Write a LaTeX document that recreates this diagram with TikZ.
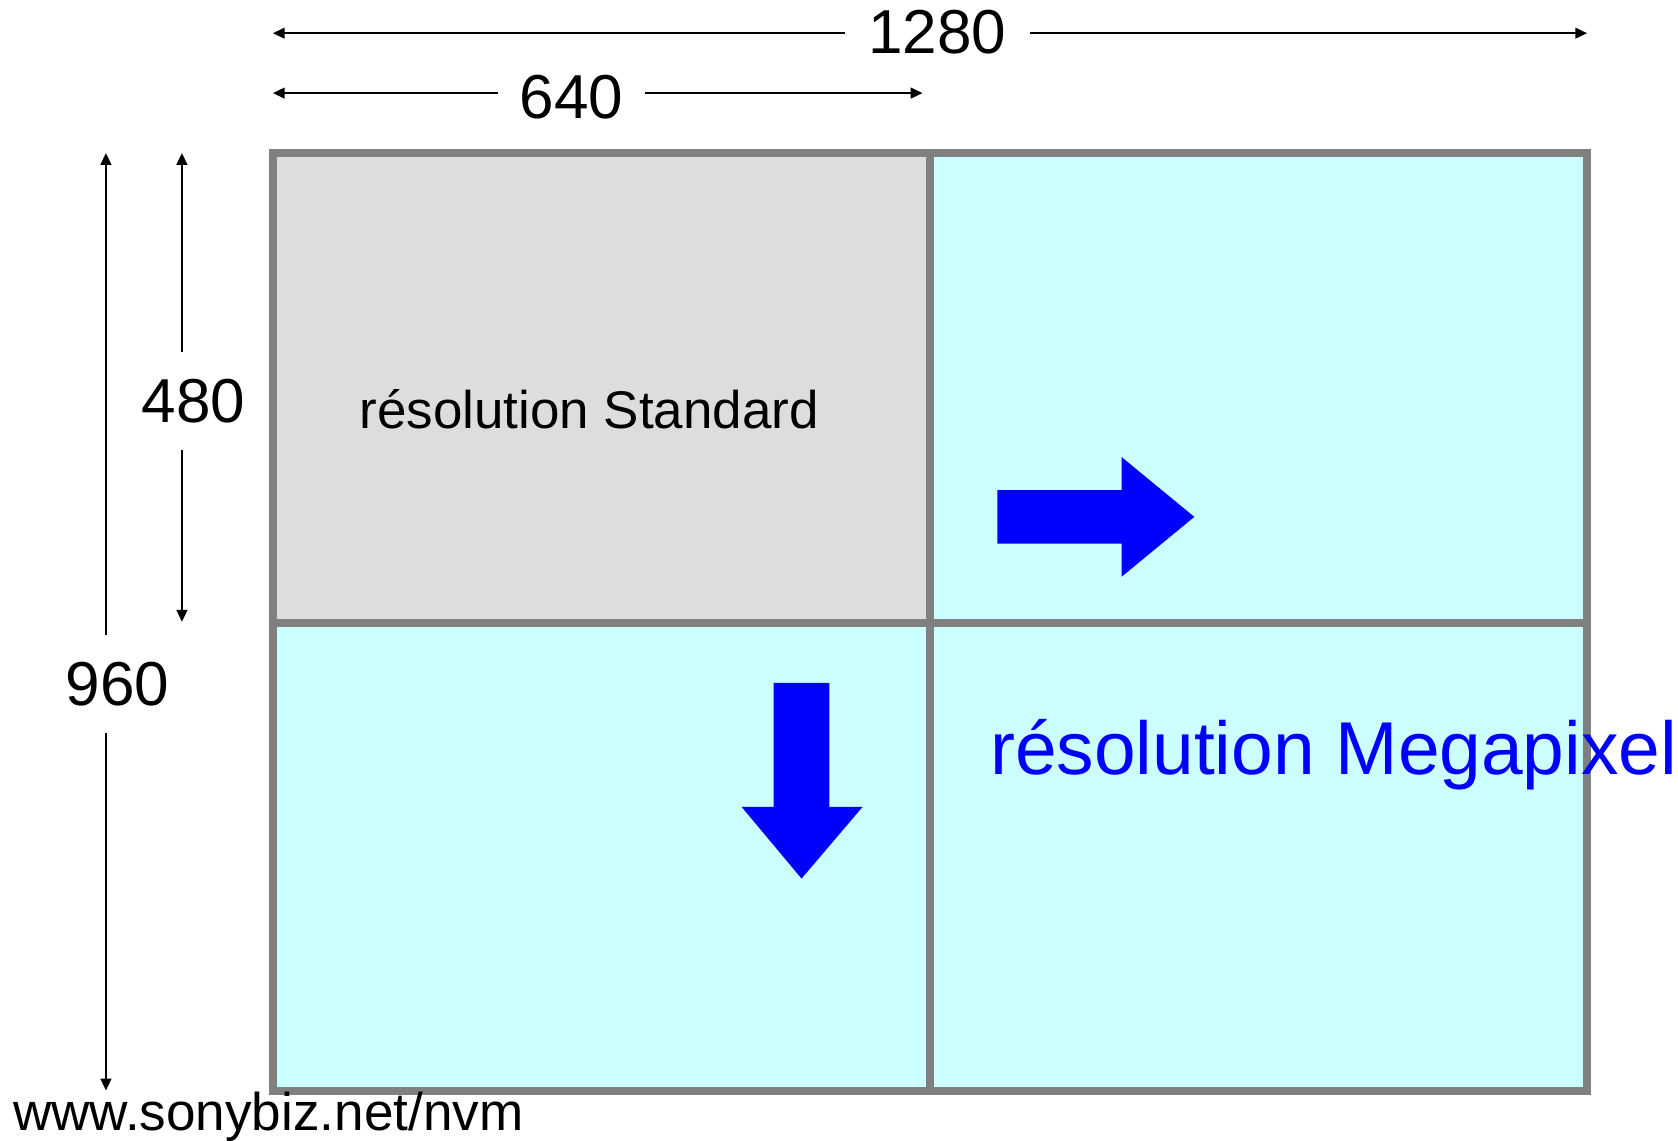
\documentclass[tikz,border=0pt]{standalone}
\usepackage{fontspec}
\setmainfont{Liberation Sans}
\usetikzlibrary{arrows.meta}
\definecolor{cellcyan}{HTML}{CCFFFF}
\definecolor{cellgray}{HTML}{DDDDDD}
\definecolor{bordergray}{HTML}{808080}
\definecolor{pureblue}{HTML}{0000FF}
\tikzset{
  cell/.style={draw=bordergray, line width=7.5pt, minimum width=614pt, inner sep=0pt, outer sep=0pt, anchor=north west},
  dim/.style={line width=1.8pt, -{Triangle[length=11pt,width=10pt]}},
  dimlabel/.style={font=\fontsize{58}{60}\selectfont, anchor=base, inner sep=0pt},
  bigarrow/.style={fill=pureblue, draw=none}
}
\begin{document}
\begin{tikzpicture}[x=1pt,y=-1pt]
\useasboundingbox (0,0) rectangle (1568,1065.3);
% cells
\node[cell, fill=cellgray, minimum height=438.5pt] (tl) at (255,143.3) {};
\node[cell, fill=cellcyan, minimum height=438.5pt] (tr) at (869,143.3) {};
\node[cell, fill=cellcyan, minimum height=437.5pt] (bl) at (255,581.8) {};
\node[cell, fill=cellcyan, minimum height=437.5pt] (br) at (869,581.8) {};
% dimension 1280
\coordinate (w1280L) at (255,31);
\coordinate (w1280R) at (1483,31);
\node[dimlabel, inner xsep=21.5pt] (t1280) at (876,50) {1280};
\draw[dim] (t1280.west |- w1280L) -- (w1280L);
\draw[dim] (t1280.east |- w1280R) -- (w1280R);
% dimension 640
\coordinate (w640L) at (255,87);
\coordinate (w640R) at (862,87);
\node[dimlabel, inner xsep=20pt] (t640) at (534,111) {640};
\draw[dim] (t640.west |- w640L) -- (w640L);
\draw[dim] (t640.east |- w640R) -- (w640R);
% dimension 480
\coordinate (h480T) at (170,143);
\coordinate (h480B) at (170,581);
\node[dimlabel, inner ysep=25pt] (t480) at (181,395) {480};
\draw[dim] (t480.north -| h480T) -- (h480T);
\draw[dim] (t480.south -| h480B) -- (h480B);
% dimension 960
\coordinate (h960T) at (99,143);
\coordinate (h960B) at (99,1019);
\node[dimlabel, inner ysep=25pt] (t960) at (110,659) {960};
\draw[dim] (t960.north -| h960T) -- (h960T);
\draw[dim] (t960.south -| h960B) -- (h960B);
% texts
\node[anchor=base, inner sep=0pt, font=\fontsize{49.5}{52}\selectfont] (std) at (550.5,400) {résolution Standard};
\node[anchor=base west, inner sep=0pt, text=pureblue, font=\fontsize{70}{72}\selectfont] (mega) at (925,724) {résolution Megapixel};
\node[anchor=base west, inner sep=0pt, font=\fontsize{49.6}{52}\selectfont] (url) at (12,1056) {www.sonybiz.net/nvm};
% blue arrows
\fill[bigarrow] (932,458) -- (1048,458) -- (1048,427) -- (1116,483) -- (1048,539) -- (1048,508) -- (932,508) -- cycle;
\fill[bigarrow] (723,638) -- (775,638) -- (775,754) -- (806,754) -- (749,821) -- (693,754) -- (723,754) -- cycle;
\end{tikzpicture}
\end{document}
